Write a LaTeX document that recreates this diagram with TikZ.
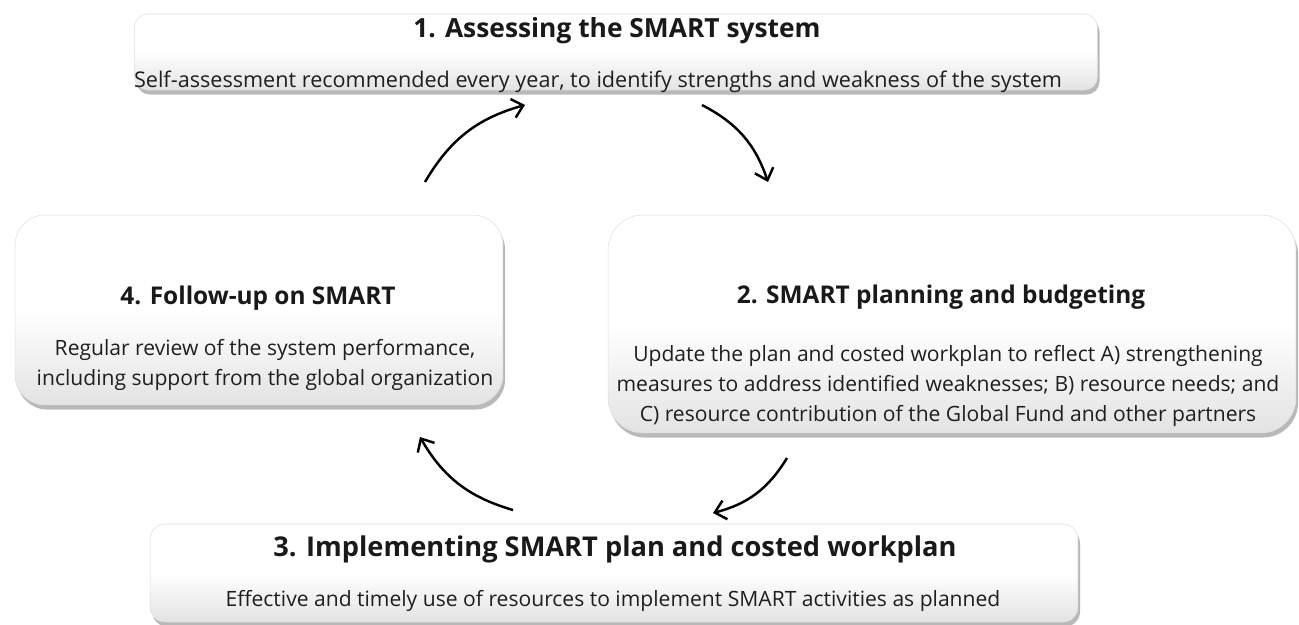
\documentclass[tikz,border=0pt]{standalone}
\usepackage{fontspec}
\setmainfont{Open Sans}
\usetikzlibrary{shadows,arrows.meta}
\tikzset{
  stagebox/.style={rounded corners=#1, top color=white, bottom color=gray!22,
    middle color=white, draw=gray!25, line width=0.3pt, inner sep=0pt,
    drop shadow={opacity=0.55, shadow xshift=1.2pt, shadow yshift=-2.6pt}},
  stagetitle/.style={font=\bfseries\fontsize{#1}{16}\selectfont, text=black!90},
  stagetext/.style={font=\fontsize{#1}{17}\selectfont, text=black!88, align=center},
  cyclearrow/.style={line width=1.4pt, -{Straight Barb[length=6pt,width=11pt]}, bend left=22}
}
\begin{document}
\begin{tikzpicture}[x=0.02cm, y=0.02cm]
            \useasboundingbox (0,0) rectangle (1299,-625);
            % stage boxes
            \node[stagebox=0.26cm, minimum width=19.26cm, minimum height=1.52cm] (box1) at (616,-52) {};
            \node[stagebox=0.6cm, minimum width=9.76cm, minimum height=3.8cm] (box4) at (259,-310) {};
            \node[stagebox=0.7cm, minimum width=13.76cm, minimum height=4.36cm] (box2) at (952,-324) {};
            \node[stagebox=0.3cm, minimum width=18.56cm, minimum height=1.96cm] (box3) at (614,-573) {};
            % stage texts
            \node[stagetitle=15] (title1) at (617,-31) {1. Assessing the SMART system};
            \node[stagetext=12.3, anchor=base] (text1) at (598,-88) {Self-assessment recommended every year, to identify strengths and weakness of the system};
            \node[stagetitle=13.9] (title4) at (258,-298) {4. Follow-up on SMART};
            \node[stagetext=12] (text4) at (265,-365) {Regular review of the system performance,\\including support from the global organization};
            \node[stagetitle=13.9] (title2) at (941,-297) {2. SMART planning and budgeting};
            \node[stagetext=12] (text2) at (948,-386) {Update the plan and costed workplan to reflect A) strengthening\\measures to address identified weaknesses; B) resource needs; and\\C) resource contribution of the Global Fund and other partners};
            \node[stagetitle=15.5] (title3) at (615,-549) {3. Implementing SMART plan and costed workplan};
            \node[stagetext=12] (text3) at (613,-601) {Effective and timely use of resources to implement SMART activities as planned};
            % arrow ends
            \coordinate (a1s) at (425,-182);
            \coordinate (a1e) at (525,-105);
            \coordinate (a2s) at (702,-105);
            \coordinate (a2e) at (768,-182);
            \coordinate (a3s) at (787,-458);
            \coordinate (a3e) at (713,-513);
            \coordinate (a4s) at (513,-510);
            \coordinate (a4e) at (420,-437);
            % cycle arrows
            \draw[cyclearrow] (a1s) to (a1e);
            \draw[cyclearrow] (a2s) to (a2e);
            \draw[cyclearrow] (a3s) to (a3e);
            \draw[cyclearrow] (a4s) to (a4e);
        \end{tikzpicture}
\end{document}
